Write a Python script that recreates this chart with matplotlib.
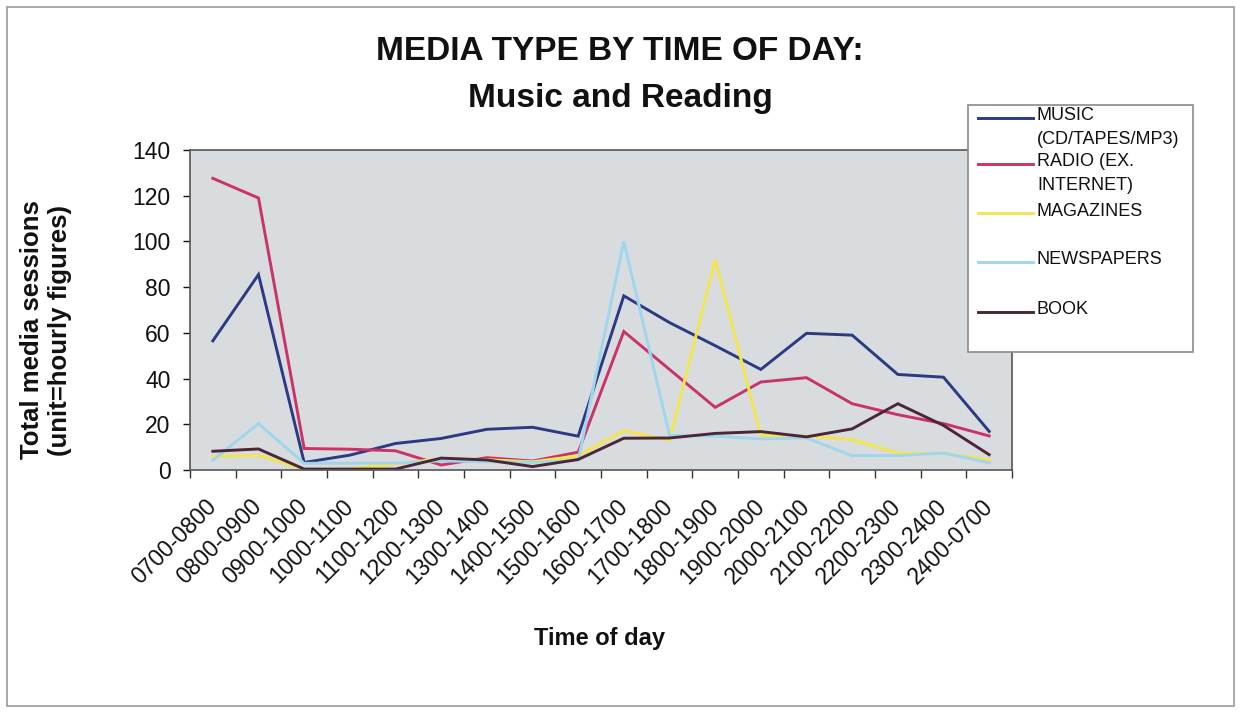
import numpy as np
import matplotlib
matplotlib.use('Agg')
import matplotlib.pyplot as plt
from matplotlib.lines import Line2D
from matplotlib.patches import Rectangle

plt.rcParams['font.family'] = ['Liberation Sans', 'DejaVu Sans']

# hourly slots
time_slots = ['0700-0800', '0800-0900', '0900-1000', '1000-1100', '1100-1200',
              '1200-1300', '1300-1400', '1400-1500', '1500-1600', '1600-1700',
              '1700-1800', '1800-1900', '1900-2000', '2000-2100', '2100-2200',
              '2200-2300', '2300-2400', '2400-0700']

music = [56.5, 85.5, 3.3, 6.5, 11.6, 13.8, 17.8, 18.7, 14.8, 76.2,
         64.5, 54.4, 44.0, 59.8, 59.0, 41.8, 40.6, 16.9]
radio = [127.6, 119.0, 9.4, 9.1, 8.4, 2.2, 5.4, 3.9, 7.8, 60.6,
         44.0, 27.4, 38.5, 40.4, 29.0, 24.2, 20.3, 14.9]
magazines = [6.0, 6.5, 0.3, 0.5, 2.6, 5.0, 4.5, 3.6, 6.2, 17.2,
             13.0, 92.0, 15.2, 14.9, 13.3, 7.4, 7.2, 4.5]
newspapers = [4.3, 20.3, 2.9, 3.0, 3.0, 4.0, 3.6, 3.3, 4.2, 100.0,
              15.2, 14.8, 13.6, 14.0, 6.3, 6.3, 7.4, 3.2]
book = [8.2, 9.2, 0.4, 0.4, 0.4, 5.2, 4.4, 1.5, 4.6, 13.9,
        14.0, 16.0, 16.8, 14.5, 18.0, 29.0, 19.5, 6.7]

series_names = [['MUSIC', '(CD/TAPES/MP3)'], ['RADIO (EX.', 'INTERNET)'],
                ['MAGAZINES'], ['NEWSPAPERS'], ['BOOK']]
series_values = [music, radio, magazines, newspapers, book]
series_colors = ['#2b3a82', '#c8336a', '#f2e54e', '#9fd6ee', '#4b2638']

W, H = 1239, 712


def fx(px):
    return px / W


def fy(py):
    return 1 - py / H


fig = plt.figure(figsize=(W / 100, H / 100), dpi=100)
fig.patch.set_facecolor('white')

ax = fig.add_axes([fx(190), fy(470), fx(1012) - fx(190), fy(150) - fy(470)])
ax.set_facecolor('#d9dcdf')

x = np.arange(len(time_slots))
for vals, color in zip(series_values, series_colors):
    ax.plot(x, vals, color=color, lw=2.1, solid_joinstyle='miter')

ax.set_xlim(-0.5, len(time_slots) - 0.5)
ax.set_ylim(0, 140)
ax.set_yticks(range(0, 141, 20))
ax.tick_params(axis='y', length=5, width=1, pad=9, labelsize=16.5, colors='#111')

ax.set_xticks(x)
ax.set_xticklabels(time_slots, rotation=45, ha='right', va='center',
                   rotation_mode='anchor')
ax.set_xticks(np.arange(-0.5, len(time_slots), 1), minor=True)
ax.tick_params(axis='x', which='major', length=0, pad=24, labelsize=16.5, colors='#111')
ax.tick_params(axis='x', which='minor', length=6, width=1, color='#333')

for s in ax.spines.values():
    s.set_color('#555555')
    s.set_linewidth(1.2)

# titles
fig.text(fx(620), fy(52), 'MEDIA TYPE BY TIME OF DAY:', ha='center', va='center',
         fontsize=24, fontweight='bold', color='#111')
fig.text(fx(620), fy(98), 'Music and Reading', ha='center', va='center',
         fontsize=24, fontweight='bold', color='#111')
fig.text(fx(46), fy(330), 'Total media sessions\n(unit=hourly figures)',
         rotation=90, ha='center', va='center', multialignment='center',
         fontsize=18.5, fontweight='bold', linespacing=1.2, color='#111')
fig.text(fx(600), fy(638), 'Time of day', ha='center', va='center',
         fontsize=17, fontweight='bold', color='#111')

# legend box
fig.add_artist(Rectangle((fx(968), fy(352)), fx(1193) - fx(968), fy(105) - fy(352),
                         transform=fig.transFigure, facecolor='white',
                         edgecolor='#8a8a8a', lw=1.2, zorder=5))
entry_y = [118, 164, 213, 262, 312]
for lines, color, yy in zip(series_names, series_colors, entry_y):
    fig.add_artist(Line2D([fx(978), fx(1033)], [fy(yy), fy(yy)],
                          transform=fig.transFigure, color=color, lw=2.1, zorder=6))
    for k, txt in enumerate(lines):
        fig.text(fx(1037), fy(yy - 2 + 24 * k), txt, ha='left', va='center',
                 fontsize=13, color='#111', zorder=7)

# outer chart border
fig.add_artist(Rectangle((fx(7), fy(706)), fx(1234) - fx(7), fy(7) - fy(706),
                         transform=fig.transFigure, fill=False,
                         edgecolor='#9a9a9a', lw=1.2, zorder=4))

fig.savefig('out.png', dpi=100)
